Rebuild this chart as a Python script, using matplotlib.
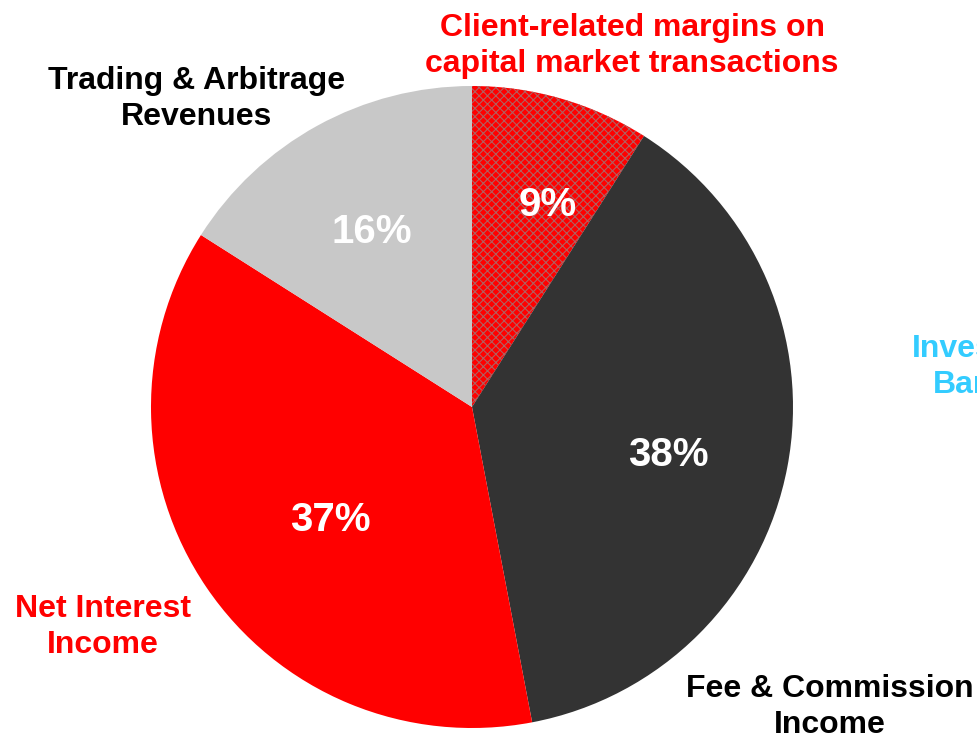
import matplotlib.pyplot as plt

plt.rcParams['font.family'] = ['Liberation Sans', 'DejaVu Sans']

# revenue mix, clockwise from 12 o'clock
segments = ['Client-related margins on\ncapital market transactions',
            'Fee & Commission\nIncome',
            'Net Interest\nIncome',
            'Trading & Arbitrage\nRevenues']
shares = [9, 38, 37, 16]
colors = ['#ff0000', '#333333', '#ff0000', '#c8c8c8']
label_colors = ['#ff0000', '#000000', '#ff0000', '#000000']

# positions in pixel space (axes span the whole figure)
pct_pos = [(548, 205), (668, 455), (330, 520), (372, 232)]
label_pos = [(632, 46), (830, 707), (103, 627), (197, 99)]


def main():
    plt.rcParams['hatch.linewidth'] = 0.8
    fig = plt.figure(figsize=(9.78, 7.41), dpi=100)
    ax = fig.add_axes([0, 0, 1, 1])

    # y axis points down, so start at -90 and go "counterclockwise" in data
    # space, which is clockwise from 12 o'clock on screen
    wedges, _ = ax.pie(shares, colors=colors, startangle=-90, counterclock=True,
                       center=(472, 407), radius=321, frame=True,
                       wedgeprops=dict(linewidth=0))
    ax.set_xlim(0, 978)
    ax.set_ylim(741, 0)
    ax.set_aspect('equal')
    ax.axis('off')

    wedges[0].set_hatch('xxxx')
    wedges[0].set_edgecolor('#b06060')

    for (x, y), v in zip(pct_pos, shares):
        ax.text(x, y, f'{v}%', color='white', fontsize=29, fontweight='bold',
                ha='center', va='center')
    for (x, y), txt, c in zip(label_pos, segments, label_colors):
        ax.text(x, y, txt, color=c, fontsize=23, fontweight='bold',
                ha='center', va='center', linespacing=1.3)

    # partly outside the frame in the original slide
    ax.text(996, 367, 'Investment\nBanking', color='#33ccff', fontsize=23,
            fontweight='bold', ha='center', va='center', linespacing=1.3,
            clip_on=False)

    fig.savefig('out.png', dpi=100)


if __name__ == "__main__":
    main()
